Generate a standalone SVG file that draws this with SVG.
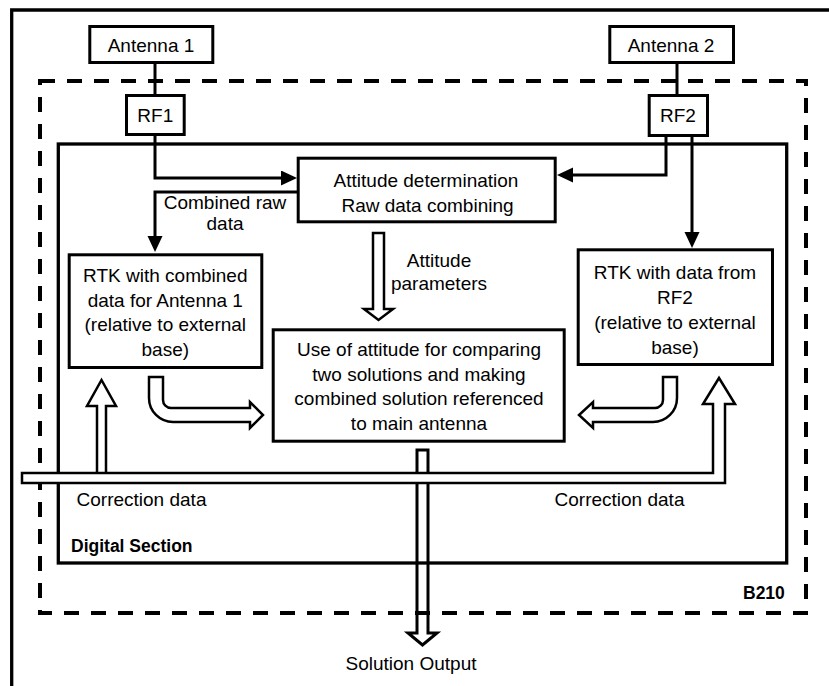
<svg xmlns="http://www.w3.org/2000/svg" width="829" height="686" viewBox="0 0 829 686">
<style>
text{font-family:"Liberation Sans",Arial,sans-serif;font-size:19px;fill:#000;text-anchor:middle}
.b{font-weight:bold;font-size:17.5px;text-anchor:start}
.box{fill:#fff;stroke:#000;stroke-width:3}
.ln{fill:none;stroke:#000;stroke-width:3}
.hol{fill:#fff;stroke:#000;stroke-width:2.5;stroke-linejoin:miter}
</style>
<defs>
<marker id="ah" markerUnits="userSpaceOnUse" markerWidth="17" markerHeight="16" refX="0" refY="7.5" orient="auto">
<path d="M0,0 L16,7.5 L0,15 Z" fill="#000"/>
</marker>
</defs>
<rect width="829" height="686" fill="#fff"/>
<path d="M11.7,700 V10 H840" fill="none" stroke="#000" stroke-width="3.3"/>
<g id="b210">
<rect x="40" y="81" width="766" height="532" fill="none" stroke="#000" stroke-width="4" stroke-dasharray="15 12"/>
<text class="b" x="743" y="599">B210</text>
</g>
<g id="digital-section">
<rect x="58.3" y="144" width="728.4" height="419" fill="none" stroke="#000" stroke-width="3.3"/>
<text class="b" x="71" y="552">Digital Section</text>
</g>
<g id="output-arrow">
<path d="M417,450 H428 V633 H437 L422.5,645 L408,633 H417 Z" fill="none" stroke="#000" stroke-width="3"/>
<text x="411" y="670">Solution Output</text>
</g>
<g id="antenna1">
<rect class="box" x="89.8" y="26.5" width="123" height="36"/>
<text x="151" y="52.3">Antenna 1</text>
</g>
<g id="antenna2">
<rect class="box" x="609.8" y="26.5" width="123.7" height="36"/>
<text x="671" y="52.3">Antenna 2</text>
</g>
<g id="rf1">
<rect class="box" x="126.5" y="95.5" width="57.7" height="39"/>
<text x="155.3" y="121.7">RF1</text>
</g>
<g id="rf2">
<rect class="box" x="649.2" y="95.5" width="58.3" height="40"/>
<text x="678" y="121.7">RF2</text>
</g>
<g id="attitude-determination">
<rect class="box" x="298.2" y="158.2" width="257" height="63.6"/>
<text x="426" y="186.7">Attitude determination</text>
<text x="427.5" y="211.7">Raw data combining</text>
</g>
<g id="rtk1">
<rect class="box" x="69.2" y="254.8" width="192.6" height="112.7"/>
<text x="165.3" y="282">RTK with combined</text>
<text x="165.3" y="306.5">data for Antenna 1</text>
<text x="165.3" y="331">(relative to external</text>
<text x="165.3" y="355.5">base)</text>
</g>
<g id="rtk2">
<rect class="box" x="578.2" y="249.8" width="194.3" height="114.7"/>
<text x="675" y="278.5">RTK with data from</text>
<text x="675" y="303.5">RF2</text>
<text x="675" y="328.5">(relative to external</text>
<text x="675" y="353.5">base)</text>
</g>
<g id="combine-solution">
<rect class="box" x="273.2" y="329.8" width="291" height="111.4"/>
<text x="419" y="356">Use of attitude for comparing</text>
<text x="419" y="380.7">two solutions and making</text>
<text x="419" y="405.3">combined solution referenced</text>
<text x="419" y="430">to main antenna</text>
</g>
<g id="connectors">
<line class="ln" x1="155" y1="63" x2="155" y2="94"/>
<line class="ln" x1="677" y1="63" x2="677" y2="94"/>
<path class="ln" d="M155,136 V178 H281" marker-end="url(#ah)"/>
<path class="ln" d="M297,192 H155 V236" marker-end="url(#ah)"/>
<path class="ln" d="M666,136 V175 H573" marker-end="url(#ah)"/>
<path class="ln" d="M692,136 V232" marker-end="url(#ah)"/>
<text x="225" y="209">Combined raw</text>
<text x="225" y="230">data</text>
<path class="hol" d="M373,233 H384 V309 H393 L378.5,320 L364,309 H373 Z"/>
<text x="439" y="267">Attitude</text>
<text x="439" y="290">parameters</text>
<path class="hol" stroke-width="3" d="M149,377 H163 V400 A8,8 0 0 0 171,408 H250 V402 L263,415 L250,428 V422 H173 A24,24 0 0 1 149,398 Z"/>
<path class="hol" stroke-width="3" d="M677,377 H663 V400 A8,8 0 0 1 655,408 H593 V402 L579,415 L593,428 V422 H653 A24,24 0 0 0 677,398 Z"/>
<path class="hol" stroke-width="2" d="M97,474 V406 H87 L101.5,380 L116,406 H106 V474 Z"/>
<path class="hol" stroke-width="2" d="M22,473 H713 V404 H703 L719,378 L735,404 H725 V483 H22 Z"/>
<text x="141.5" y="506">Correction data</text>
<text x="619.5" y="506">Correction data</text>
</g>
</svg>
